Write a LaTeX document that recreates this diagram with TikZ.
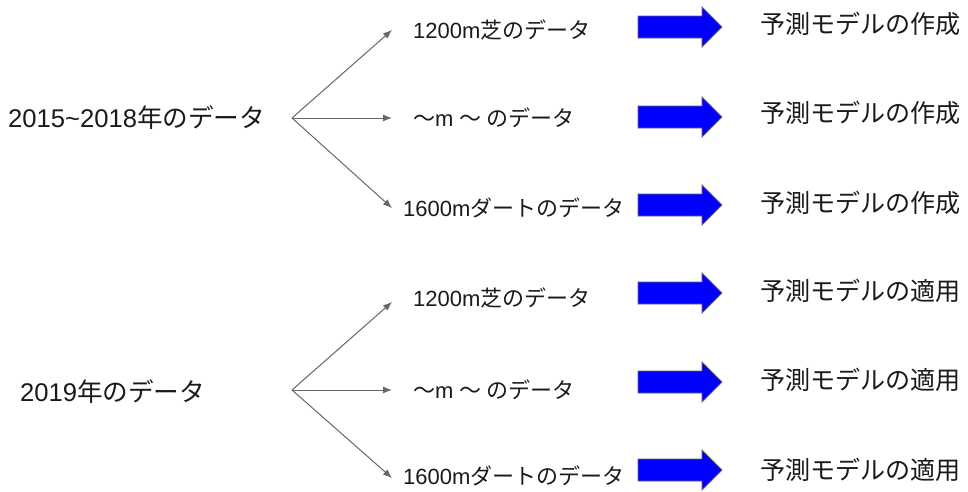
\documentclass[tikz,border=0pt]{standalone}
\usepackage{fontspec}
\setmainfont{Liberation Sans}
\newfontfamily\jp{Noto Sans CJK JP}
\usetikzlibrary{arrows.meta}
\definecolor{linegray}{HTML}{666666}
\definecolor{arrowblue}{HTML}{0000FF}
\definecolor{txt}{HTML}{1A1A1A}
\begin{document}
\begin{tikzpicture}[x=1pt,y=-1pt,
  src/.style={anchor=west,inner sep=0pt,text=txt,font=\fontsize{25.6}{27}\selectfont},
  mid/.style={anchor=west,inner sep=0pt,text=txt,font=\fontsize{22}{24}\selectfont},
  res/.style={anchor=west,inner sep=0pt,text=txt,font=\fontsize{25.1}{27}\selectfont},
  conn/.style={draw=linegray,line width=1pt,-{Latex[length=9pt,width=7pt]}},
  bigarrow/.style={fill=arrowblue,draw=gray!80!black,line width=0.8pt}]
\useasboundingbox (0,0) rectangle (968,491);
% top group
\node[src] (a) at (8,118) {2015\textasciitilde2018{\jp 年のデータ}};
\coordinate (fa) at (292,118);
\node[mid] (a1) at (413,30) {1200m{\jp 芝のデータ}};
\node[mid] (a2) at (413,118) {{\jp ～}m {\jp ～ のデータ}};
\node[mid] (a3) at (403,208) {1600m{\jp ダートのデータ}};
\coordinate (a1t) at (392,30);
\coordinate (a2t) at (392,118);
\coordinate (a3t) at (392,208);
\draw[conn] (fa) -- (a1t);
\draw[conn] (fa) -- (a2t);
\draw[conn] (fa) -- (a3t);
% bottom group
\node[src] (b) at (20,392) {2019{\jp 年のデータ}};
\coordinate (fb) at (292,390);
\node[mid] (b1) at (413,298) {1200m{\jp 芝のデータ}};
\node[mid] (b2) at (413,390) {{\jp ～}m {\jp ～ のデータ}};
\node[mid] (b3) at (403,476) {1600m{\jp ダートのデータ}};
\coordinate (b1t) at (392,302);
\coordinate (b2t) at (392,390);
\coordinate (b3t) at (392,478);
\draw[conn] (fb) -- (b1t);
\draw[conn] (fb) -- (b2t);
\draw[conn] (fb) -- (b3t);
% blue arrows
\foreach \y/\n in {27/p1,117/p2,205/p3,293/q1,382/q2,470/q3}{
  \draw[bigarrow] (638,\y-11) -- (702,\y-11) -- (702,\y-20) -- (722,\y) -- (702,\y+20) -- (702,\y+11) -- (638,\y+11) -- cycle;
  \coordinate (\n) at (722,\y);
}
% results
\node[res] (r1) at (760,24) {\jp 予測モデルの作成};
\node[res] (r2) at (760,113) {\jp 予測モデルの作成};
\node[res] (r3) at (760,203) {\jp 予測モデルの作成};
\node[res] (s1) at (760,291) {\jp 予測モデルの適用};
\node[res] (s2) at (760,380) {\jp 予測モデルの適用};
\node[res] (s3) at (760,470) {\jp 予測モデルの適用};
\end{tikzpicture}
\end{document}
